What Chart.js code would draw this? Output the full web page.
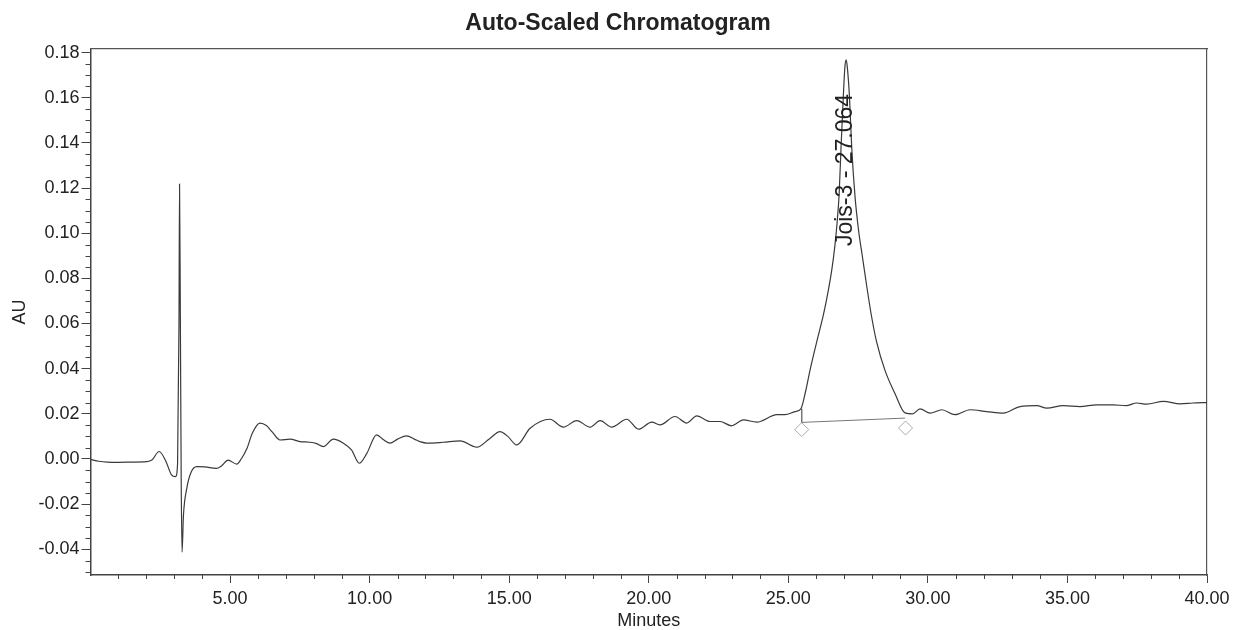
<!DOCTYPE html>
<html>
<head>
<meta charset="utf-8">
<script src="https://cdn.jsdelivr.net/npm/chart.js@4/dist/chart.umd.min.js"></script>
<style>
  html, body { margin: 0; padding: 0; background: #fff; }
  #wrap { width: 1236px; height: 630px; }
</style>
</head>
<body>
<div id="wrap"><canvas id="chrom"></canvas></div>
<script>
var FONT = "'Liberation Sans', Arial, sans-serif";

// trace: minutes / AU
var minutes = [0.00, 0.30, 0.60, 1.00, 1.50, 2.00, 2.20, 2.46, 2.70, 2.90, 3.05, 3.12, 3.17, 3.19, 3.22, 3.25, 3.28, 3.33, 3.45, 3.60,
  3.80, 4.10, 4.50, 4.70, 4.93, 5.24, 5.40, 5.60, 5.80, 6.07, 6.30, 6.50, 6.79, 7.15, 7.50, 7.86, 8.10, 8.34, 8.70, 9.06,
  9.35, 9.63, 9.90, 10.25, 10.50, 10.73, 11.00, 11.33, 11.60, 11.80, 12.05, 12.64, 13.24, 13.84, 14.30, 14.67, 14.95, 15.27, 15.75, 16.46,
  16.94, 17.42, 17.90, 18.26, 18.67, 19.21, 19.63, 20.11, 20.40, 20.94, 21.36, 21.72, 22.20, 22.55, 22.97, 23.39, 23.87, 24.59, 24.88, 25.24,
  25.45, 25.62, 25.78, 26.02, 26.26, 26.43, 26.56, 26.66, 26.75, 26.82, 26.89, 26.97, 27.03, 27.07, 27.11, 27.19, 27.27, 27.39, 27.52, 27.65,
  27.81, 27.97, 28.17, 28.47, 28.82, 29.18, 29.45, 29.72, 30.08, 30.50, 30.97, 31.51, 32.11, 32.70, 33.30, 33.90, 34.26, 34.85, 35.45, 36.05,
  36.65, 37.10, 37.48, 37.84, 38.44, 39.04, 39.50, 40.00];
var au = [-0.0002, -0.0010, -0.0014, -0.0015, -0.0014, -0.0012, -0.0005, 0.0033, -0.0010, -0.0070, -0.0078, -0.0020, 0.0600, 0.1218, 0.0600, -0.0100, -0.0413, -0.0250, -0.0130, -0.0060,
  -0.0034, -0.0035, -0.0042, -0.0030, -0.0005, -0.0023, 0.0000, 0.0045, 0.0115, 0.0159, 0.0148, 0.0121, 0.0084, 0.0088, 0.0077, 0.0074, 0.0068, 0.0055, 0.0088, 0.0070,
  0.0040, -0.0019, 0.0025, 0.0107, 0.0085, 0.0070, 0.0088, 0.0102, 0.0088, 0.0077, 0.0070, 0.0074, 0.0080, 0.0052, 0.0090, 0.0121, 0.0100, 0.0062, 0.0136, 0.0176,
  0.0141, 0.0170, 0.0141, 0.0170, 0.0141, 0.0176, 0.0132, 0.0163, 0.0151, 0.0188, 0.0159, 0.0191, 0.0166, 0.0166, 0.0147, 0.0173, 0.0163, 0.0196, 0.0196, 0.0210,
  0.0222, 0.0300, 0.0395, 0.0520, 0.0640, 0.0745, 0.0840, 0.0935, 0.1050, 0.1170, 0.1384, 0.1606, 0.1740, 0.1768, 0.1740, 0.1606, 0.1384, 0.1162, 0.1010, 0.0900,
  0.0765, 0.0640, 0.0515, 0.0390, 0.0290, 0.0204, 0.0200, 0.0222, 0.0203, 0.0218, 0.0196, 0.0218, 0.0210, 0.0203, 0.0232, 0.0236, 0.0225, 0.0236, 0.0232, 0.0240,
  0.0240, 0.0236, 0.0248, 0.0243, 0.0255, 0.0244, 0.0248, 0.0250];

// integration baseline (drop line + baseline) and the start/end markers
var baseX = [25.48, 25.48, 29.18];
var baseY = [0.0222, 0.0162, 0.0181];
var markX = [25.48, 29.20];
var markY = [0.0130, 0.0137];

var peakLabel = "Jois-3 - 27.064";
var peakLabelX = 27.064;
var peakLabelY = 0.128;

function pts(xs, ys) {
  var out = [];
  for (var i = 0; i < xs.length; i++) out.push({ x: xs[i], y: ys[i] });
  return out;
}

// minor ticks + peak label
var extras = {
  id: 'extras',
  afterDraw: function (chart) {
    var ctx = chart.ctx, xs = chart.scales.x, ys = chart.scales.y, a = chart.chartArea;
    ctx.save();
    ctx.strokeStyle = '#444';
    ctx.lineWidth = 1;
    ctx.beginPath();
    for (var m = 1; m < 40; m++) {
      if (m % 5 === 0) continue;
      var px = Math.round(xs.getPixelForValue(m)) + 0.5;
      ctx.moveTo(px, a.bottom);
      ctx.lineTo(px, a.bottom + 4);
    }
    for (var k = -10; k <= 36; k++) {
      if (k % 4 === 0) continue;
      var py = Math.round(ys.getPixelForValue(k * 0.005)) + 0.5;
      ctx.moveTo(a.left - 5, py);
      ctx.lineTo(a.left, py);
    }
    ctx.stroke();

    ctx.translate(xs.getPixelForValue(peakLabelX), ys.getPixelForValue(peakLabelY));
    ctx.rotate(-Math.PI / 2);
    ctx.fillStyle = '#222';
    ctx.font = '23px ' + FONT;
    ctx.textAlign = 'center';
    ctx.textBaseline = 'middle';
    ctx.fillText(peakLabel, 0, 0);
    ctx.restore();
  }
};

new Chart(document.getElementById('chrom'), {
  type: 'line',
  data: {
    datasets: [
      {
        data: pts(minutes, au),
        borderColor: '#3a3a3a',
        borderWidth: 1.2,
        pointRadius: 0,
        cubicInterpolationMode: 'monotone'
      },
      {
        data: pts(baseX, baseY),
        borderColor: '#777',
        borderWidth: 1,
        pointRadius: 0,
        tension: 0
      },
      {
        data: pts(markX, markY),
        showLine: false,
        pointStyle: 'rectRot',
        pointRadius: 7,
        pointBorderWidth: 1,
        pointBorderColor: '#aaa',
        pointBackgroundColor: 'rgba(0,0,0,0)'
      }
    ]
  },
  options: {
    responsive: true,
    maintainAspectRatio: false,
    animation: false,
    layout: { padding: 0 },
    plugins: {
      legend: { display: false },
      tooltip: { enabled: false },
      title: {
        display: true,
        text: 'Auto-Scaled Chromatogram',
        color: '#222',
        font: { family: FONT, size: 23, weight: 'bold' },
        padding: { top: 10, bottom: 11.4 }
      }
    },
    scales: {
      x: {
        type: 'linear',
        min: 0,
        max: 40,
        afterFit: function (s) { s.height = 55; },
        afterBuildTicks: function (s) { s.ticks = s.ticks.filter(function (t) { return t.value > 0; }); },
        ticks: {
          stepSize: 5,
          color: '#222',
          padding: 5,
          maxRotation: 0,
          font: { family: FONT, size: 18 },
          callback: function (v) { return Number(v).toFixed(2); }
        },
        grid: { drawOnChartArea: false, tickLength: 8, tickColor: '#444' },
        border: { color: '#444', width: 1.5 },
        title: {
          display: true,
          text: 'Minutes',
          color: '#222',
          font: { family: FONT, size: 18, lineHeight: 1 },
          padding: { top: 0, bottom: 0 }
        }
      },
      y: {
        min: -0.0514,
        max: 0.1816,
        afterFit: function (s) { s.width = 90.5; },
        ticks: {
          stepSize: 0.02,
          includeBounds: false,
          color: '#222',
          padding: 2,
          font: { family: FONT, size: 18 },
          callback: function (v) { return Number(v).toFixed(2); }
        },
        grid: { drawOnChartArea: false, tickLength: 9, tickColor: '#444' },
        border: { color: '#444', width: 1.5 },
        title: {
          display: true,
          text: 'AU',
          color: '#222',
          font: { family: FONT, size: 18, lineHeight: 1 },
          padding: { top: 11, bottom: 0 }
        }
      },
      x2: {
        type: 'linear',
        position: 'top',
        afterFit: function (s) { s.height = 0; },
        ticks: { display: false },
        grid: { display: false },
        border: { color: '#555', width: 1.2 }
      },
      y2: {
        type: 'linear',
        position: 'right',
        afterFit: function (s) { s.width = 29; },
        ticks: { display: false },
        grid: { display: false },
        border: { color: '#555', width: 1.2 }
      }
    }
  },
  plugins: [extras]
});
</script>
</body>
</html>
